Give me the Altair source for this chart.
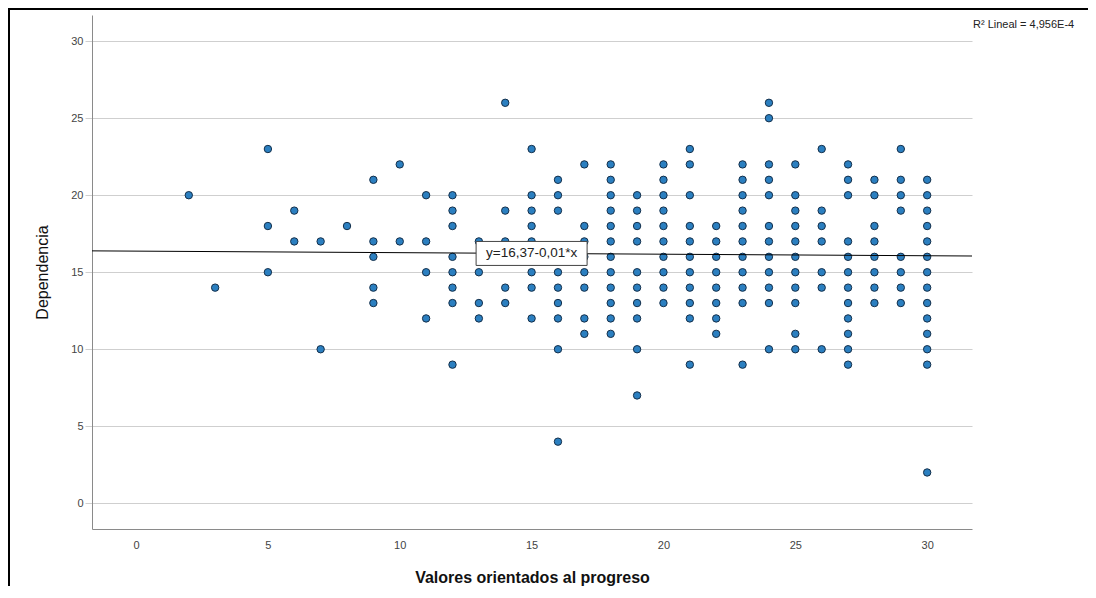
import altair as alt
import pandas as pd

# ---- data ----
x_values = [2, 3, 5, 6, 7, 8, 9, 10, 11, 12, 13, 14, 15, 16, 17, 18, 19, 20,
            21, 22, 23, 24, 25, 26, 27, 28, 29, 30]
dependencia_by_x = [
    [20],
    [14],
    [23, 18, 15],
    [19, 17],
    [17, 10],
    [18],
    [21, 17, 16, 14, 13],
    [22, 17],
    [20, 17, 15, 12],
    [20, 19, 18, 16, 15, 14, 13, 9],
    [17, 15, 13, 12],
    [26, 19, 17, 14, 13],
    [23, 20, 19, 18, 17, 15, 14, 12],
    [21, 20, 19, 15, 14, 13, 12, 10, 4],
    [22, 18, 17, 16, 15, 14, 12, 11],
    [22, 21, 20, 19, 18, 17, 16, 15, 14, 13, 12, 11],
    [20, 19, 18, 17, 15, 14, 13, 12, 10, 7],
    [22, 21, 20, 19, 18, 17, 16, 15, 14, 13],
    [23, 22, 20, 18, 17, 16, 15, 14, 13, 12, 9],
    [18, 17, 16, 15, 14, 13, 12, 11],
    [22, 21, 20, 19, 18, 17, 16, 15, 14, 13, 9],
    [26, 25, 22, 21, 20, 18, 17, 16, 15, 14, 13, 10],
    [22, 20, 19, 18, 17, 16, 15, 14, 13, 11, 10],
    [23, 19, 18, 17, 15, 14, 10],
    [22, 21, 20, 17, 16, 15, 14, 13, 12, 11, 10, 9],
    [21, 20, 18, 17, 16, 15, 14, 13],
    [23, 21, 20, 19, 16, 15, 14, 13],
    [21, 20, 19, 18, 17, 16, 15, 14, 13, 12, 11, 10, 9, 2],
]
tick_values = [0, 5, 10, 15, 20, 25, 30]
axis_domain = [-1.67, 31.7]
fit_intercept = 16.37
fit_slope = -0.01
fit_label = "y=16,37-0,01*x"
fit_label_x = 15
r2_label = "R\u00b2 Lineal = 4,956E-4"

# ---- tables ----
points = pd.DataFrame(
    [{"x": x, "y": y} for x, ys in zip(x_values, dependencia_by_x) for y in ys]
)
fit_line = pd.DataFrame(
    {"x": axis_domain, "y": [fit_intercept + fit_slope * v for v in axis_domain]}
)
fit_text = pd.DataFrame(
    {"x": [fit_label_x], "y": [fit_intercept + fit_slope * fit_label_x], "t": [fit_label]}
)

FONT = "Liberation Sans"
xs = alt.Scale(domain=axis_domain, nice=False, zero=False)
ys = alt.Scale(domain=axis_domain, nice=False, zero=False)

x_axis = alt.Axis(
    values=tick_values, ticks=False, grid=False, labelPadding=10,
    labelFontSize=11, labelColor="#444444", labelFont=FONT,
    domainColor="#8a8a8a", domainWidth=1,
    title="Valores orientados al progreso", titleFont=FONT, titleFontSize=16,
    titleFontWeight="bold", titleColor="#111111",
    titleBaseline="alphabetic", titleY=53,
)
y_axis = alt.Axis(
    values=tick_values, ticks=True, tickSize=7, tickColor="#cfcfcf",
    grid=True, gridColor="#cfcfcf", gridWidth=1, labelPadding=2,
    labelFontSize=11, labelColor="#444444", labelFont=FONT,
    domainColor="#8a8a8a", domainWidth=1,
    title="Dependencia", titleFont=FONT, titleFontSize=16,
    titleFontWeight="normal", titleColor="#111111",
    titleAngle=270, titleBaseline="alphabetic", titleAlign="center",
    titleX=-45, titleY=257,
)


def xy():
    return dict(
        x=alt.X("x:Q", scale=xs, axis=x_axis),
        y=alt.Y("y:Q", scale=ys, axis=y_axis),
    )


frame = alt.Chart(alt.Data(values=[{}])).mark_rect(
    fill="transparent", stroke="black", strokeWidth=2
).encode(
    x=alt.value(-83), x2=alt.value(1300), y=alt.value(-6), y2=alt.value(900)
)

scatter = alt.Chart(points).mark_circle(
    size=55, color="#2b7fc0", stroke="#142f4a", strokeWidth=1, opacity=1
).encode(**xy())

line = alt.Chart(fit_line).mark_line(color="black", strokeWidth=1).encode(**xy())

box = alt.Chart(fit_text).mark_point(
    shape="M-1,-0.216H1V0.216H-1Z", size=12321, filled=True,
    fill="white", stroke="#444444", strokeWidth=1, opacity=1,
).encode(**xy())

box_text = alt.Chart(fit_text).mark_text(
    font=FONT, fontSize=13.5, color="#222222", align="center", baseline="middle"
).encode(text="t:N", **xy())

r2 = alt.Chart(alt.Data(values=[{"t": r2_label}])).mark_text(
    font=FONT, fontSize=11, color="#222222", align="left", baseline="middle"
).encode(
    x=alt.value(881), y=alt.value(10), text="t:N"
)

chart = alt.layer(scatter, line, box, box_text, r2, frame).properties(
    width=880, height=514,
    autosize=alt.AutoSizeParams(type="none"),
    padding={"left": 84, "top": 7, "right": 116, "bottom": 57},
).configure(background="white", view=alt.ViewConfig(stroke=None))

chart.save("out.html", embed_options={"renderer": "svg", "actions": False})
